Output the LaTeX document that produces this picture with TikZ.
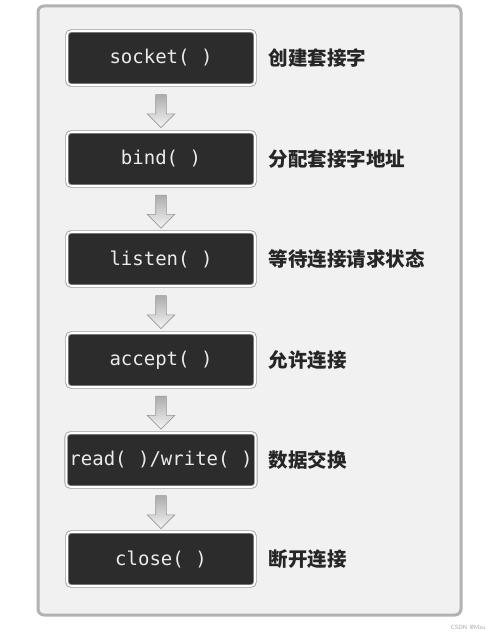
\documentclass[tikz,border=0pt]{standalone}
\usepackage{fontspec}
\setmonofont{DejaVu Sans Mono}
\newfontfamily\cjk{Noto Sans CJK SC}
\usetikzlibrary{shapes.arrows}

\definecolor{panelfill}{HTML}{F1F1F1}
\definecolor{panelline}{HTML}{B2B2B2}
\definecolor{callfill}{HTML}{2C2C2C}

\tikzset{
  callbox/.style={draw=gray!75, double=white, double distance=1.6pt, line width=0.9pt,
    fill=callfill, rounded corners=4pt, minimum width=188pt, minimum height=54pt,
    text=white!92!black, font=\ttfamily\fontsize{19}{22}\selectfont},
  calllabel/.style={anchor=west, font=\cjk\bfseries\fontsize{19.5}{22}\selectfont, text=black!85},
  downarrow/.style={single arrow, shape border rotate=270, draw=gray!80, line width=0.6pt,
    top color=gray!65, bottom color=gray!8, inner sep=5pt, minimum height=33pt,
    single arrow head extend=8.5pt}
}

\begin{document}
\begin{tikzpicture}[x=1pt,y=-1pt]
\useasboundingbox (0,0) rectangle (490,634);
\draw[panelline, fill=panelfill, line width=3pt, rounded corners=6pt] (38,6) rectangle (461,615);

\node (sock) [callbox] at (161,58) {socket( )};
\node (bind) [callbox] at (161,159) {bind( )};
\node (listen) [callbox] at (161,259) {listen( )};
\node (accept) [callbox] at (161,360) {accept( )};
\node (rw) [callbox] at (161,460) {read( )/write( )};
\node (close) [callbox] at (161,559) {close( )};

\node (socklabel) [calllabel] at (265,58) {创建套接字};
\node (bindlabel) [calllabel] at (265,159) {分配套接字地址};
\node (listenlabel) [calllabel] at (265,259) {等待连接请求状态};
\node (acceptlabel) [calllabel] at (265,360) {允许连接};
\node (rwlabel) [calllabel] at (265,460) {数据交换};
\node (closelabel) [calllabel] at (265,559) {断开连接};

\path (sock) -- node[downarrow] (arr1) {} (bind);
\path (bind) -- node[downarrow] (arr2) {} (listen);
\path (listen) -- node[downarrow] (arr3) {} (accept);
\path (accept) -- node[downarrow] (arr4) {} (rw);
\path (rw) -- node[downarrow] (arr5) {} (close);

\node (mark) [anchor=east, text=gray!70, font=\sffamily\fontsize{6}{7}\selectfont] at (489,627) {CSDN @Mzu};
\end{tikzpicture}
\end{document}
